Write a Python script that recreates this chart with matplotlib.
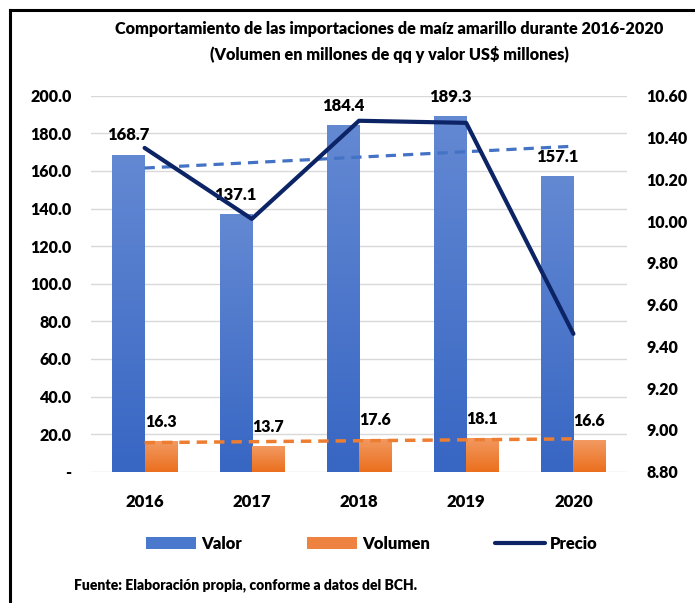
import numpy as np
import matplotlib
matplotlib.use("Agg")
import matplotlib.pyplot as plt
from matplotlib.patches import Patch
from matplotlib.lines import Line2D
from matplotlib.colors import LinearSegmentedColormap

years = ["2016", "2017", "2018", "2019", "2020"]
valor = [168.7, 137.1, 184.4, 189.3, 157.1]
volumen = [16.3, 13.7, 17.6, 18.1, 16.6]
precio = [10.35, 10.01, 10.48, 10.47, 9.46]

title = ("Comportamiento de las importaciones de maíz amarillo durante 2016-2020\n"
         "(Volumen en millones de qq y valor US$ millones)")
source = "Fuente: Elaboración propia, conforme a datos del BCH."

FONT = ["Lato", "DejaVu Sans"]
WT = "heavy"
plt.rcParams["font.family"] = FONT
plt.rcParams["font.weight"] = WT

W, H = 695, 603
fig = plt.figure(figsize=(W / 100, H / 100), dpi=100)
ax = fig.add_axes([91 / W, 1 - 471.7 / H, (627 - 91) / W, (471.7 - 95.7) / H])
ax2 = ax.twinx()

x = np.arange(len(years))
bw = 0.3
blue_top, blue_bot = "#6489D3", "#3766C3"
or_top, or_bot = "#F29A62", "#EB6F1D"

bars_v = ax.bar(x - bw / 2, valor, bw, color=blue_bot, zorder=2)
bars_o = ax.bar(x + bw / 2, volumen, bw, color=or_bot, zorder=2)

ax.set_xlim(-0.5, len(years) - 0.5)
ax.set_ylim(0, 200)


def gradient(bars, top, bot):
    cmap = LinearSegmentedColormap.from_list("g", [bot, top])
    grad = np.linspace(0, 1, 256).reshape(-1, 1)
    for b in bars:
        x0, y0 = b.get_x(), b.get_y()
        w, h = b.get_width(), b.get_height()
        im = ax.imshow(grad, cmap=cmap, origin="lower", aspect="auto",
                       extent=[x0, x0 + w, y0, y0 + h], zorder=2.1)
        im.set_clip_path(b)


gradient(bars_v, blue_top, blue_bot)
gradient(bars_o, or_top, or_bot)
ax.set_xlim(-0.5, len(years) - 0.5)
ax.set_ylim(0, 200)

# trend lines
pv = np.polyfit(x, valor, 1)
po = np.polyfit(x, volumen, 1)
ax.plot(x[[0, -1]], np.polyval(pv, x[[0, -1]]), color="#4472C4", lw=2.3,
        dashes=(3.2, 2.2), zorder=3)
ax.plot(x[[0, -1]], np.polyval(po, x[[0, -1]]), color="#ED7D31", lw=2.5,
        dashes=(3.0, 2.0), zorder=3)

# data labels
for b, v in zip(bars_v, valor):
    ax.annotate(f"{v:.1f}", (b.get_x() + b.get_width() / 2, v), xytext=(0, 8),
                textcoords="offset points", ha="center", va="bottom",
                fontsize=12, fontweight=WT, zorder=5)
for b, v in zip(bars_o, volumen):
    ax.annotate(f"{v:.1f}", (b.get_x() + b.get_width() / 2, v), xytext=(0, 8),
                textcoords="offset points", ha="center", va="bottom",
                fontsize=11.5, fontweight=WT, zorder=5)

# price line
ax2.plot(x, precio, color="#0C2465", lw=3.0, solid_joinstyle="round",
         solid_capstyle="round", zorder=6)
ax2.set_ylim(8.8, 10.6)
rt = np.arange(8.8, 10.61, 0.2)
ax2.set_yticks(rt)
ax2.set_yticklabels([f"{t:.2f}" for t in rt])

yt = np.arange(0, 201, 20)
ax.set_yticks(yt)
ax.set_yticklabels(["-" if t == 0 else f"{t:.1f}" for t in yt])
ax.set_xticks(x)
ax.set_xticklabels(years)
ax.yaxis.grid(True, color="#D9D9D9", lw=1.0, zorder=0)
ax.set_axisbelow(True)

for a in (ax, ax2):
    for s in a.spines.values():
        s.set_visible(False)
    a.tick_params(length=0, labelsize=11.5)
ax.tick_params(axis="y", pad=14)
ax2.tick_params(axis="y", pad=14)
ax.tick_params(axis="x", pad=16, labelsize=12)
for lbl in ax.get_xticklabels() + ax.get_yticklabels() + ax2.get_yticklabels():
    lbl.set_fontweight(WT)

# title
fig.text(389 / W, 1 - 42 / H, title, ha="center", va="center", fontsize=11.7,
         fontweight=WT, linespacing=1.6)

# legend
handles = [Patch(facecolor="#4A78CC", edgecolor="none"),
           Patch(facecolor="#EE8240", edgecolor="none"),
           Line2D([], [], color="#0C2465", lw=3.0, solid_capstyle="round")]
leg = fig.legend(handles, ["Valor", "Volumen", "Precio"], ncol=3,
                 loc="center", bbox_to_anchor=(372 / W, 1 - 544 / H),
                 frameon=False, handlelength=3.0,
                 handleheight=0.7, handletextpad=0.3, columnspacing=3.9,
                 prop={"weight": WT, "size": 12, "family": FONT})

fig.text(74 / W, 1 - 585 / H, source, ha="left", va="center", fontsize=10,
         fontweight=WT)

# frame
fig.add_artist(Line2D([9.5 / W, 9.5 / W], [0, 1 - 9.5 / H], color="black",
                      lw=2.2, transform=fig.transFigure, solid_capstyle="projecting"))
fig.add_artist(Line2D([9.5 / W, 1], [1 - 9.5 / H, 1 - 9.5 / H], color="black",
                      lw=2.2, transform=fig.transFigure, solid_capstyle="projecting"))

fig.savefig("out.png", dpi=100)
